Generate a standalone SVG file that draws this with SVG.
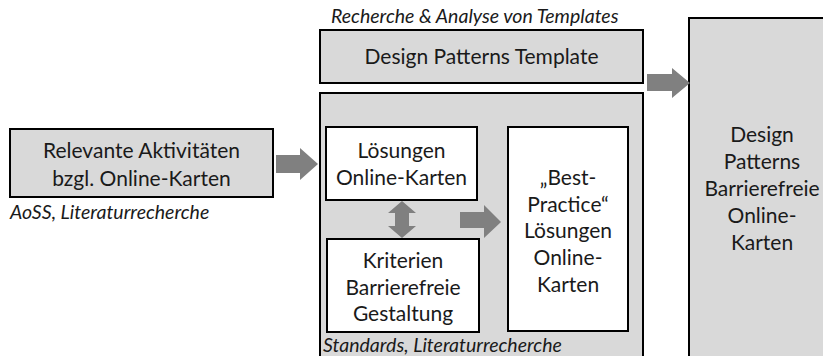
<svg xmlns="http://www.w3.org/2000/svg" width="823" height="356" viewBox="0 0 823 356">
  <style>
    .box { fill: #d9d9d9; stroke: #000; stroke-width: 2; }
    .inner { fill: #fff; stroke: #000; stroke-width: 2; }
    .arrow { fill: #808080; }
    .t { font-family: Lato, "Open Sans", sans-serif; font-size: 21px; fill: #1a1a1a; text-anchor: middle; }
    .note { font-family: Lato, "Open Sans", sans-serif; font-size: 19.5px; font-style: italic; fill: #1a1a1a; }
  </style>
  <rect width="823" height="356" fill="#fff"/>

  <g id="activities">
    <rect class="box" x="10" y="129" width="263" height="68"/>
    <text class="t" x="141.5" y="158">Relevante Aktivitäten</text>
    <text class="t" x="141.5" y="186">bzgl. Online-Karten</text>
    <text class="note" x="10" y="219">AoSS, Literaturrecherche</text>
  </g>

  <g id="template">
    <rect class="box" x="320" y="30" width="323" height="53"/>
    <text class="t" x="481.5" y="64">Design Patterns Template</text>
    <text class="note" x="331" y="23">Recherche &amp; Analyse von Templates</text>
  </g>

  <g id="research">
    <rect class="box" x="320" y="93" width="323" height="270"/>
    <text class="note" x="323" y="352">Standards, Literaturrecherche</text>
  </g>

  <g id="solutions">
    <rect class="inner" x="326" y="127" width="151" height="73"/>
    <text class="t" x="401.5" y="158">Lösungen</text>
    <text class="t" x="401.5" y="185">Online-Karten</text>
  </g>

  <g id="criteria">
    <rect class="inner" x="327" y="239" width="152" height="93"/>
    <text class="t" x="403" y="268">Kriterien</text>
    <text class="t" x="403" y="295">Barrierefreie</text>
    <text class="t" x="403" y="321">Gestaltung</text>
  </g>

  <g id="best-practice">
    <rect class="inner" x="508" y="127" width="120" height="204"/>
    <text class="t" x="568" y="185">„Best-</text>
    <text class="t" x="568" y="212">Practice“</text>
    <text class="t" x="568" y="238">Lösungen</text>
    <text class="t" x="568" y="265">Online-</text>
    <text class="t" x="568" y="292">Karten</text>
  </g>

  <g id="design-patterns">
    <rect class="box" x="689" y="18" width="146" height="345"/>
    <text class="t" x="762" y="142">Design</text>
    <text class="t" x="762" y="169">Patterns</text>
    <text class="t" x="762" y="196">Barrierefreie</text>
    <text class="t" x="762" y="223">Online-</text>
    <text class="t" x="762" y="250">Karten</text>
  </g>

  <g id="connectors">
    <!-- activities -> research -->
    <polygon class="arrow" points="276,155 300,155 300,148 318,164 300,180 300,173 276,173"/>
    <!-- template -> design patterns -->
    <polygon class="arrow" points="647,74 672,74 672,68 690,83 672,98 672,91 647,91"/>
    <!-- solutions <-> criteria -->
    <polygon class="arrow" points="402,201 416,213 409,213 409,226 416,226 402,238 388,226 395,226 395,213 388,213"/>
    <!-- criteria/solutions -> best practice -->
    <polygon class="arrow" points="460,212 484,212 484,205 501,222 484,238 484,228 460,228"/>
  </g>
</svg>
